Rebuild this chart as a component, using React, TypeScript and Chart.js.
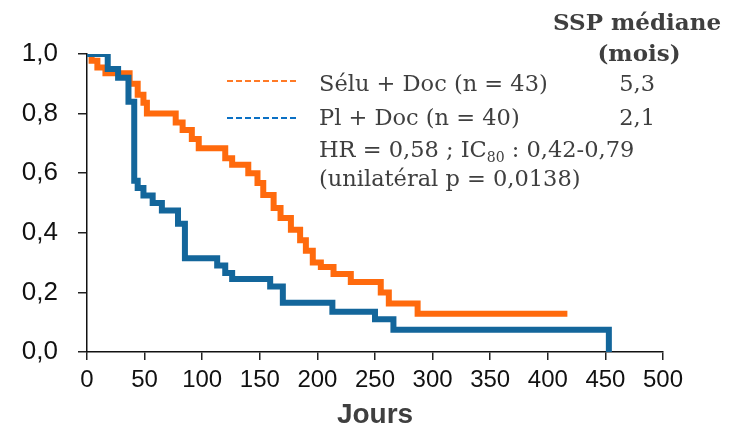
import React, { useEffect, useRef } from "react";
import { Chart, registerables } from "chart.js";

Chart.register(...registerables);

// ---- Data ----
const seluDays = [0, 4, 9, 16, 37, 44, 49, 52, 77, 83, 91, 97, 120, 126, 140, 148, 153, 162, 168, 177, 185, 190, 196, 203, 214, 229, 255, 262, 287, 417];
const seluSurv = [1.0, 0.977, 0.955, 0.935, 0.9, 0.863, 0.836, 0.8, 0.77, 0.745, 0.715, 0.684, 0.65, 0.628, 0.6, 0.567, 0.527, 0.483, 0.45, 0.41, 0.375, 0.34, 0.3, 0.285, 0.262, 0.235, 0.2, 0.163, 0.128, 0.128];

const plDays = [0, 18, 27, 36, 41, 44, 49, 57, 65, 79, 85, 113, 120, 126, 159, 170, 213, 250, 266, 453];
const plSurv = [1.0, 0.95, 0.92, 0.84, 0.575, 0.55, 0.525, 0.5, 0.475, 0.43, 0.315, 0.29, 0.265, 0.245, 0.22, 0.165, 0.135, 0.11, 0.075, 0.0];

const xTitle = "Jours";
const legendLabels = ["Sélu + Doc (n = 43)", "Pl + Doc (n = 40)"];
const medianValues = ["5,3", "2,1"];
const medianHeader = ["SSP médiane", "(mois)"];
const hrParts = ["HR = 0,58 ; IC", "80", " : 0,42-0,79"];
const pLine = "(unilatéral p = 0,0138)";

const ORANGE = "#ff6a0d";
const BLUE = "#13669b";
const LEG_ORANGE = "#ff7a26";
const LEG_BLUE = "#0a70c4";
const TEXT = "#3f3f3f";
const SERIF = "'DejaVu Serif', 'Liberation Serif', serif";

const legendPlugin = {
  id: "kmLegend",
  afterDraw(chart: any) {
    const ctx = chart.ctx as CanvasRenderingContext2D;
    ctx.save();
    ctx.fillStyle = TEXT;
    // header
    ctx.font = `bold 23px ${SERIF}`;
    ctx.textAlign = "center";
    ctx.textBaseline = "alphabetic";
    ctx.fillText(medianHeader[0], 637, 30);
    ctx.fillText(medianHeader[1], 639, 61);

    // dashed legend lines
    const dashColors = [LEG_ORANGE, LEG_BLUE];
    const dashY = [81, 118];
    ctx.lineWidth = 2;
    ctx.setLineDash([6, 3]);
    dashColors.forEach((c, i) => {
      ctx.strokeStyle = c;
      ctx.beginPath();
      ctx.moveTo(227, dashY[i]);
      ctx.lineTo(296, dashY[i]);
      ctx.stroke();
    });
    ctx.setLineDash([]);

    // labels
    ctx.font = `22.5px ${SERIF}`;
    ctx.textAlign = "left";
    const baselines = [91, 125, 157, 186];
    legendLabels.forEach((t, i) => ctx.fillText(t, 319, baselines[i]));
    ctx.textAlign = "right";
    medianValues.forEach((t, i) => ctx.fillText(t, 655, baselines[i]));

    // HR line with subscript
    ctx.textAlign = "left";
    let x = 319;
    ctx.fillText(hrParts[0], x, baselines[2]);
    x += ctx.measureText(hrParts[0]).width;
    ctx.font = `14px ${SERIF}`;
    ctx.fillText(hrParts[1], x, baselines[2] + 5);
    x += ctx.measureText(hrParts[1]).width;
    ctx.font = `22.5px ${SERIF}`;
    ctx.fillText(hrParts[2], x, baselines[2]);

    ctx.fillText(pLine, 319, baselines[3]);
    ctx.restore();
  },
};

export default function App() {
  const ref = useRef<HTMLCanvasElement | null>(null);

  useEffect(() => {
    if (!ref.current) return;
    const chart = new Chart(ref.current, {
      type: "line",
      data: {
        datasets: [
          {
            label: legendLabels[1],
            data: plDays.map((d, i) => ({ x: d, y: plSurv[i] })),
            borderColor: BLUE,
            borderWidth: 6,
            stepped: "before",
            pointRadius: 0,
            fill: false,
          },
          {
            label: legendLabels[0],
            data: seluDays.map((d, i) => ({ x: d, y: seluSurv[i] })),
            borderColor: ORANGE,
            borderWidth: 6,
            stepped: "before",
            pointRadius: 0,
            fill: false,
          },
        ],
      },
      options: {
        responsive: false,
        animation: false,
        devicePixelRatio: 1,
        layout: { padding: { left: 0, top: 54, right: 67, bottom: 0 } },
        plugins: { legend: { display: false }, tooltip: { enabled: false } },
        scales: {
          x: {
            type: "linear",
            min: 0,
            max: 500,
            ticks: {
              stepSize: 50,
              color: "#111",
              font: { family: "'Liberation Sans', Arial, sans-serif", size: 24 },
              padding: 6,
              maxRotation: 0,
              autoSkip: false,
            },
            grid: { drawOnChartArea: false, drawTicks: true, tickLength: 8, color: "#222", lineWidth: 1.5 },
            border: { color: "#111", width: 1.5 },
            title: {
              display: true,
              text: xTitle,
              color: TEXT,
              font: { family: "'Liberation Sans', Arial, sans-serif", size: 28, weight: "bold" },
              padding: { top: 0, bottom: 4 },
            },
            afterFit: (s: any) => {
              s.height = 84;
            },
          },
          y: {
            min: 0,
            max: 1,
            ticks: {
              stepSize: 0.2,
              color: "#111",
              font: { family: "'Liberation Sans', Arial, sans-serif", size: 26 },
              padding: 20,
              callback: (v: any) => Number(v).toFixed(1).replace(".", ","),
            },
            grid: { drawOnChartArea: false, drawTicks: true, tickLength: 9, color: "#222", lineWidth: 1.5 },
            border: { color: "#111", width: 1.5 },
            afterFit: (s: any) => {
              s.width = 87;
            },
          },
        },
      },
      plugins: [legendPlugin],
    });
    return () => chart.destroy();
  }, []);

  return (
    <div style={{ position: "absolute", left: 0, top: 0, width: 730, height: 436, background: "#fff" }}>
      <canvas ref={ref} width={730} height={436} />
    </div>
  );
}
